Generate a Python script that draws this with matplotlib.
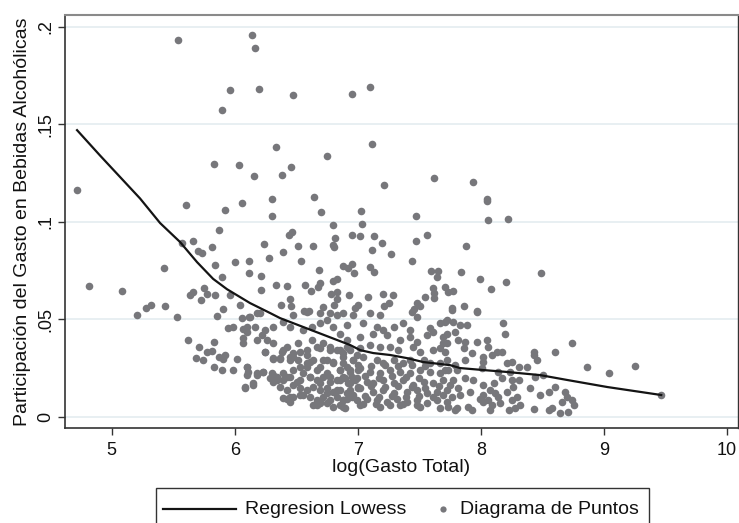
import matplotlib
matplotlib.use("Agg")
import matplotlib.pyplot as plt
from matplotlib.lines import Line2D
from matplotlib.patches import Rectangle

plt.rcParams['font.family'] = ['Liberation Sans', 'DejaVu Sans']

# ---- Lowess regression line ----
lowess_x = [4.718, 4.905, 5.23, 5.393, 5.555, 5.693, 5.824, 5.937, 6.124, 6.287, 6.368,
            6.612, 6.938, 7.019, 7.125, 7.263, 7.40, 7.531, 7.75, 7.832, 8.019, 8.214,
            8.482, 8.702, 9.027, 9.466]
lowess_y = [0.147, 0.134, 0.112, 0.0994, 0.0897, 0.0794, 0.0708, 0.0655, 0.0584, 0.0533, 0.0507,
            0.0448, 0.0369, 0.0343, 0.0328, 0.0318, 0.0302, 0.0282, 0.0266, 0.0251, 0.0241, 0.0231,
            0.0215, 0.019, 0.0154, 0.0113]

# ---- Scatter: upper sparse points ----
upper_x = [5.541, 6.138, 6.165, 6.2, 5.962, 5.894, 6.476, 6.951, 7.1, 6.333, 7.119, 6.748, 5.832,
           6.036, 6.157, 6.385, 6.455, 7.214, 6.303, 6.645, 7.623, 7.935, 8.049, 4.715]
upper_y = [0.193, 0.1957, 0.189, 0.168, 0.1675, 0.1574, 0.1648, 0.1656, 0.169, 0.1385, 0.1397, 0.134, 0.1296,
           0.1291, 0.1236, 0.1241, 0.1279, 0.1189, 0.1115, 0.1125, 0.1226, 0.1206, 0.1115, 0.1161]

# ---- Scatter: left middle points ----
left_x = [5.604, 5.921, 6.057, 5.87, 5.574, 5.663, 5.704, 5.737, 5.818, 5.84, 6.002, 6.119, 6.119,
          5.894, 5.423, 4.818, 5.081, 5.637, 5.663, 5.753, 5.772, 5.724, 5.842, 5.962, 5.902, 6.046,
          5.208, 5.279, 5.317, 5.436, 5.528, 5.859, 6.057, 6.119,
          5.948, 5.989, 6.065, 6.098, 6.065, 5.623, 5.712, 5.832, 5.772, 5.813, 5.685, 5.745, 5.875,
          5.921, 5.902, 6.021, 5.834, 5.899, 5.989, 6.098, 6.098, 6.086]
left_y = [0.1085, 0.106, 0.1095, 0.0961, 0.089, 0.0902, 0.0852, 0.0839, 0.0869, 0.0779, 0.0794, 0.0799, 0.0736,
          0.0716, 0.0765, 0.067, 0.0647, 0.0625, 0.0642, 0.0662, 0.063, 0.0599, 0.0625, 0.0625, 0.0555, 0.0574,
          0.0523, 0.0558, 0.0574, 0.0569, 0.0514, 0.0519, 0.0506, 0.0514,
          0.0454, 0.0463, 0.0449, 0.0437, 0.0403, 0.0394, 0.036, 0.0384, 0.0335, 0.0338, 0.0301, 0.0292, 0.0309,
          0.0318, 0.0296, 0.0296, 0.0255, 0.0239, 0.0242, 0.0258, 0.0215, 0.015]

# ---- Scatter: centre middle points ----
mid_x = [6.303, 6.704, 7.024, 7.037, 7.474, 6.802, 6.818, 6.444, 6.463, 6.956, 7.021, 7.133, 7.561,
         7.474, 6.238, 6.512, 6.637, 6.797, 6.81, 7.195, 6.395, 7.114, 7.268, 6.279, 6.54, 7.439,
         6.88, 6.924, 6.951, 6.967, 7.098, 7.135, 7.593, 6.683, 6.211, 6.797, 6.832, 6.211, 6.333,
         6.425, 6.574, 6.62, 6.675, 6.693, 6.78, 6.834, 6.829, 6.929, 7.084, 7.206, 7.289, 7.483,
         7.55, 6.45, 6.379, 6.458, 6.566, 6.604, 6.72, 6.81, 7.0, 6.978, 7.216, 7.257, 7.46, 7.441, 6.179]
mid_y = [0.103, 0.105, 0.1057, 0.099, 0.103, 0.0985, 0.0917, 0.0932, 0.0946, 0.0932, 0.0927, 0.0929, 0.0932,
         0.0902, 0.0886, 0.0878, 0.0878, 0.0881, 0.0872, 0.089, 0.0847, 0.0857, 0.0833, 0.0813, 0.0801, 0.0801,
         0.0774, 0.0762, 0.0784, 0.0736, 0.0767, 0.0743, 0.0746, 0.0751, 0.0721, 0.0698, 0.0705, 0.0652, 0.0676,
         0.0671, 0.0676, 0.0645, 0.0664, 0.0685, 0.0632, 0.0639, 0.0604, 0.0625, 0.0616, 0.0629, 0.0625, 0.0586,
         0.0616, 0.0606, 0.0572, 0.0569, 0.0545, 0.0545, 0.0565, 0.0574, 0.0574, 0.0557, 0.057, 0.0582, 0.0552, 0.0536, 0.0534]

# ---- Scatter: right middle points ----
right_x = [8.051, 8.062, 8.222, 7.883, 7.653, 7.647, 7.84, 8.485, 7.994, 8.203, 8.081, 7.707, 7.615,
           7.734, 7.777, 7.62, 7.62, 7.764, 7.864, 7.97, 7.506]
right_y = [0.1107, 0.1008, 0.1014, 0.0876, 0.0746, 0.0717, 0.0741, 0.0739, 0.0707, 0.0692, 0.0654, 0.0666, 0.0659,
           0.0639, 0.0647, 0.0634, 0.0608, 0.0558, 0.057, 0.0541, 0.057]

# ---- Scatter: dense block, 6.0 - 6.9 ----
dense1_x = [6.124, 6.206, 6.477, 6.585, 6.693, 6.775, 6.829,
            6.097, 6.165, 6.246, 6.219, 6.26, 6.314, 6.395, 6.45, 6.558, 6.626, 6.693, 6.748, 6.802, 6.856, 6.91,
            6.07, 6.179, 6.246, 6.314, 6.382, 6.422, 6.477, 6.517, 6.585, 6.626, 6.666, 6.721, 6.775, 6.829, 6.883,
            6.314, 6.368, 6.45, 6.531, 6.585, 6.639, 6.693, 6.748, 6.802, 6.856, 6.91,
            6.179, 6.233, 6.3, 6.341, 6.395, 6.45, 6.504, 6.558, 6.612, 6.666, 6.721, 6.775, 6.829, 6.883, 6.924,
            6.151, 6.314, 6.368, 6.422, 6.477, 6.531, 6.585, 6.639, 6.693, 6.748, 6.802, 6.856, 6.91,
            6.422, 6.477, 6.531, 6.612, 6.666, 6.721, 6.775, 6.829, 6.883,
            6.45, 6.666, 6.748, 6.802, 6.856, 6.897]
dense1_y = [0.0514, 0.0531, 0.0522, 0.054, 0.0531, 0.0531, 0.0522,
            0.0463, 0.0463, 0.0446, 0.042, 0.0394, 0.0463, 0.0488, 0.0463, 0.0446, 0.0463, 0.048, 0.0497, 0.0463, 0.0428, 0.0394,
            0.0377, 0.0394, 0.0335, 0.0377, 0.0335, 0.036, 0.0309, 0.0377, 0.0343, 0.0394, 0.036, 0.0377, 0.036, 0.0343, 0.0326,
            0.03, 0.03, 0.0292, 0.0258, 0.0275, 0.0292, 0.0258, 0.0292, 0.0275, 0.0241, 0.0258,
            0.0224, 0.0232, 0.0224, 0.0206, 0.0189, 0.0206, 0.018, 0.0224, 0.0206, 0.0189, 0.0206, 0.0206, 0.0189, 0.0206, 0.0172,
            0.0172, 0.018, 0.0155, 0.0138, 0.0164, 0.0147, 0.0138, 0.0155, 0.0138, 0.0147, 0.013, 0.0138, 0.0121,
            0.0095, 0.0104, 0.0113, 0.0104, 0.0087, 0.0104, 0.0087, 0.0104, 0.0087,
            0.0078, 0.0061, 0.007, 0.0053, 0.0061, 0.0044]

# ---- Scatter: dense block, 6.9 - 7.7 ----
dense2_x = [6.883, 6.964, 7.1, 7.181, 7.479, 7.723,
            6.91, 7.046, 7.154, 7.29, 7.371, 7.425, 7.588, 7.669,
            7.019, 7.127, 7.208, 7.235, 7.344, 7.425, 7.479, 7.561, 7.615, 7.696, 7.723,
            6.91, 7.019, 7.1, 7.181, 7.263, 7.33, 7.452, 7.506, 7.615, 7.669,
            6.883, 6.964, 7.046, 7.154, 7.208, 7.29, 7.371, 7.425, 7.534, 7.588, 7.669, 7.723,
            6.937, 7.019, 7.1, 7.181, 7.263, 7.344, 7.425, 7.506, 7.588, 7.669, 7.737,
            6.897, 6.978, 7.073, 7.127, 7.208, 7.29, 7.371, 7.452, 7.534, 7.615, 7.696,
            6.937, 7.019, 7.127, 7.208, 7.29, 7.398, 7.479, 7.561, 7.642, 7.723,
            6.91, 6.991, 7.073, 7.154, 7.235, 7.317, 7.398, 7.479, 7.561, 7.642, 7.723,
            7.019, 7.181, 7.344, 7.506, 7.669]
dense2_y = [0.0531, 0.0522, 0.0531, 0.0522, 0.0514, 0.0497,
            0.0471, 0.048, 0.0463, 0.0463, 0.048, 0.0446, 0.0454, 0.048,
            0.0411, 0.0428, 0.0446, 0.042, 0.0394, 0.0411, 0.0386, 0.042, 0.0437, 0.0411, 0.0377,
            0.036, 0.0352, 0.0369, 0.036, 0.036, 0.0343, 0.036, 0.0335, 0.0343, 0.0352,
            0.0309, 0.0292, 0.0309, 0.0292, 0.0275, 0.0292, 0.0275, 0.0292, 0.0292, 0.0275, 0.0275, 0.0292,
            0.0241, 0.0249, 0.0232, 0.0224, 0.0241, 0.0232, 0.0224, 0.0241, 0.0232, 0.0224, 0.0241,
            0.0198, 0.0189, 0.018, 0.0172, 0.0189, 0.0172, 0.0189, 0.0164, 0.018, 0.0172, 0.0189,
            0.0138, 0.0147, 0.013, 0.0138, 0.0121, 0.013, 0.0138, 0.0121, 0.013, 0.0138,
            0.0095, 0.0087, 0.0095, 0.0087, 0.0078, 0.0095, 0.0078, 0.0087, 0.007, 0.0087, 0.0078,
            0.0061, 0.0053, 0.0061, 0.0053, 0.0044]

# ---- Scatter: dense block, 7.7 - 9.5 ----
dense3_x = [7.764, 7.967, 7.71, 7.777, 7.832, 7.886, 8.184, 7.723, 7.791, 8.197,
            7.696, 7.818, 7.872, 7.967, 8.048, 8.739,
            7.71, 7.859, 7.926, 8.062, 8.13, 8.17, 8.428, 8.604,
            8.021, 8.089, 8.428, 8.455,
            7.791, 7.872, 8.021, 8.211, 8.252, 8.306, 8.374, 8.861, 9.038, 9.254,
            7.71, 7.805, 8.008, 8.143, 8.238, 8.441, 8.509,
            7.777, 7.872, 7.94, 8.021, 8.103, 8.17, 8.252, 8.306, 8.401, 8.604,
            7.75, 7.818, 7.913, 8.021, 8.075, 8.116, 8.211, 8.265, 8.292, 8.482, 8.55, 8.685, 8.699,
            7.696, 7.764, 7.832, 7.994, 8.062, 8.143, 8.252, 8.319, 8.658, 8.739, 8.753,
            7.737, 7.805, 7.899, 8.021, 8.089, 8.157, 8.225, 8.279, 8.428, 8.55, 8.577, 8.645, 8.712,
            7.791, 7.926, 8.075, 9.466]
dense3_y = [0.0548, 0.054, 0.0488, 0.0488, 0.0471, 0.0471, 0.0483, 0.0428, 0.0437, 0.0428,
            0.0377, 0.0394, 0.0386, 0.0386, 0.0394, 0.0377,
            0.0335, 0.0352, 0.0326, 0.036, 0.0335, 0.0335, 0.0335, 0.0335,
            0.0309, 0.0317, 0.0317, 0.0292,
            0.0266, 0.0292, 0.0283, 0.0275, 0.0283, 0.0258, 0.0258, 0.0258, 0.0227, 0.0261,
            0.0241, 0.0241, 0.0249, 0.0232, 0.0232, 0.0206, 0.0215,
            0.0189, 0.0198, 0.0189, 0.0164, 0.0172, 0.0198, 0.0189, 0.0189, 0.0147, 0.0155,
            0.0164, 0.0147, 0.013, 0.0113, 0.0138, 0.0121, 0.013, 0.0155, 0.0104, 0.0113, 0.013, 0.013, 0.0104,
            0.0113, 0.0104, 0.0113, 0.0095, 0.0087, 0.0104, 0.0087, 0.0061, 0.0078, 0.0087, 0.0061,
            0.0053, 0.0044, 0.0053, 0.0078, 0.0061, 0.007, 0.0036, 0.0044, 0.0039, 0.0036, 0.0044, 0.0019, 0.0027,
            0.0036, 0.0036, 0.0036, 0.0113]

# ---- Scatter: extra points filling the dense block 6.1 - 7.0 ----
dense4_x = [6.246, 6.395, 6.477, 6.531, 6.585, 6.693, 6.775, 6.856, 6.937, 6.991,
            6.314, 6.368, 6.45, 6.517, 6.612, 6.721, 6.802, 6.883, 6.964,
            6.097, 6.111, 6.179, 6.233, 6.314, 6.395, 6.477, 6.585, 6.666, 6.748, 6.856, 6.937, 7.005,
            6.084, 6.151, 6.287, 6.341, 6.422, 6.531, 6.612, 6.693, 6.775, 6.856, 6.937, 6.991,
            6.395, 6.45, 6.558, 6.693, 6.748, 6.829, 6.883, 6.964, 7.005,
            6.883, 6.639, 6.693]
dense4_y = [0.0335, 0.0344, 0.0327, 0.0335, 0.0318, 0.0352, 0.0344, 0.0344, 0.0344, 0.0318,
            0.0301, 0.0301, 0.0309, 0.0292, 0.0284, 0.0292, 0.0284, 0.0275, 0.0292,
            0.0258, 0.0233, 0.0216, 0.0233, 0.0216, 0.0224, 0.0241, 0.0258, 0.0241, 0.0224, 0.0241, 0.0233, 0.0241,
            0.0156, 0.0164, 0.0198, 0.019, 0.0207, 0.019, 0.0207, 0.0173, 0.0181, 0.019, 0.0173, 0.0198,
            0.0096, 0.0105, 0.0113, 0.0079, 0.0122, 0.0139, 0.0087, 0.0113, 0.0147,
            0.0053, 0.0062, 0.007]

# ---- Scatter: extra points filling the dense block 6.9 - 7.7 ----
dense5_x = [6.95, 7.06, 7.17, 7.28, 7.39, 7.50, 7.61,
            7.00, 7.11, 7.22, 7.33, 7.44, 7.55, 7.66,
            6.95, 7.06, 7.17, 7.28, 7.39, 7.50,
            7.00, 7.11, 7.22, 7.33, 7.44, 7.55,
            7.04, 7.15, 7.26, 7.37, 7.48]
dense5_y = [0.0105, 0.0110, 0.0102, 0.0108, 0.0104, 0.0110, 0.0103,
            0.0155, 0.0160, 0.0152, 0.0158, 0.0154, 0.0150, 0.0157,
            0.0205, 0.0210, 0.0202, 0.0208, 0.0204, 0.0200,
            0.0265, 0.0262, 0.0268, 0.0260, 0.0266, 0.0263,
            0.0065, 0.0068, 0.0062, 0.0066, 0.0064]

x_ticks = [5, 6, 7, 8, 9, 10]
y_ticks = [0, 0.05, 0.1, 0.15, 0.2]
y_ticklabels = ["0", ".05", ".1", ".15", ".2"]
legend_labels = ['Regresion Lowess', 'Diagrama de Puntos']

scatter_x = upper_x + left_x + mid_x + right_x + dense1_x + dense2_x + dense3_x + dense4_x + dense5_x
scatter_y = upper_y + left_y + mid_y + right_y + dense1_y + dense2_y + dense3_y + dense4_y + dense5_y

W, H = 739, 523
fig = plt.figure(figsize=(W / 100, H / 100), dpi=100)
fig.patch.set_facecolor('white')
ax = fig.add_axes([65 / W, 1 - 428 / H, (738 - 65) / W, (428 - 15) / H])

pt_color = '#77777b'
line_color = '#141414'
ax.scatter(scatter_x, scatter_y, s=30, color=pt_color, linewidths=0, zorder=2)
ax.plot(lowess_x, lowess_y, color=line_color, lw=1.6, zorder=3)

ax.set_xlim(4.62, 10.09)
ax.set_ylim(-0.0056, 0.206)
ax.set_xticks(x_ticks)
ax.set_yticks(y_ticks)
ax.set_yticklabels(y_ticklabels, rotation=90, va='center')
ax.tick_params(axis='both', direction='out', length=5, width=1, color='#333333',
               labelsize=13, labelcolor='#111111', pad=3)
ax.tick_params(axis='x', pad=5)
ax.grid(axis='y', color='#e6eef1', lw=1.3, zorder=0)
ax.set_axisbelow(True)

for side in ['left', 'bottom']:
    ax.spines[side].set_color('#333333')
    ax.spines[side].set_linewidth(1.2)
ax.spines['top'].set_color('#8a8a8a')
ax.spines['top'].set_linewidth(1.5)
ax.spines['right'].set_color('#333333')
ax.spines['right'].set_linewidth(1.0)

ax.set_xlabel('log(Gasto Total)', fontsize=14, color='#111111', labelpad=0)
ax.set_ylabel('Participación del Gasto en Bebidas Alcohólicas', fontsize=14, color='#111111', labelpad=4)

# ---- legend box below the plot (cut by the figure bottom, as in the reference) ----
def fx(px):
    return px / W

def fy(py):
    return 1 - py / H

fig.patches.append(Rectangle((fx(156), fy(535)), fx(649) - fx(156), fy(488) - fy(535),
                             transform=fig.transFigure, facecolor='white',
                             edgecolor='#333333', lw=1.0, zorder=1))
fig.lines.append(Line2D([fx(163), fx(236)], [fy(509), fy(509)], transform=fig.transFigure,
                        color=line_color, lw=1.6, zorder=2))
fig.lines.append(Line2D([fx(443)], [fy(509)], transform=fig.transFigure, color=pt_color,
                        marker='o', markersize=4.5, lw=0, markeredgewidth=0, zorder=2))
fig.text(fx(245), fy(509), legend_labels[0], fontsize=14, color='#111111', va='center', ha='left')
fig.text(fx(460), fy(509), legend_labels[1], fontsize=14, color='#111111', va='center', ha='left')

fig.savefig('out.png', dpi=100)
